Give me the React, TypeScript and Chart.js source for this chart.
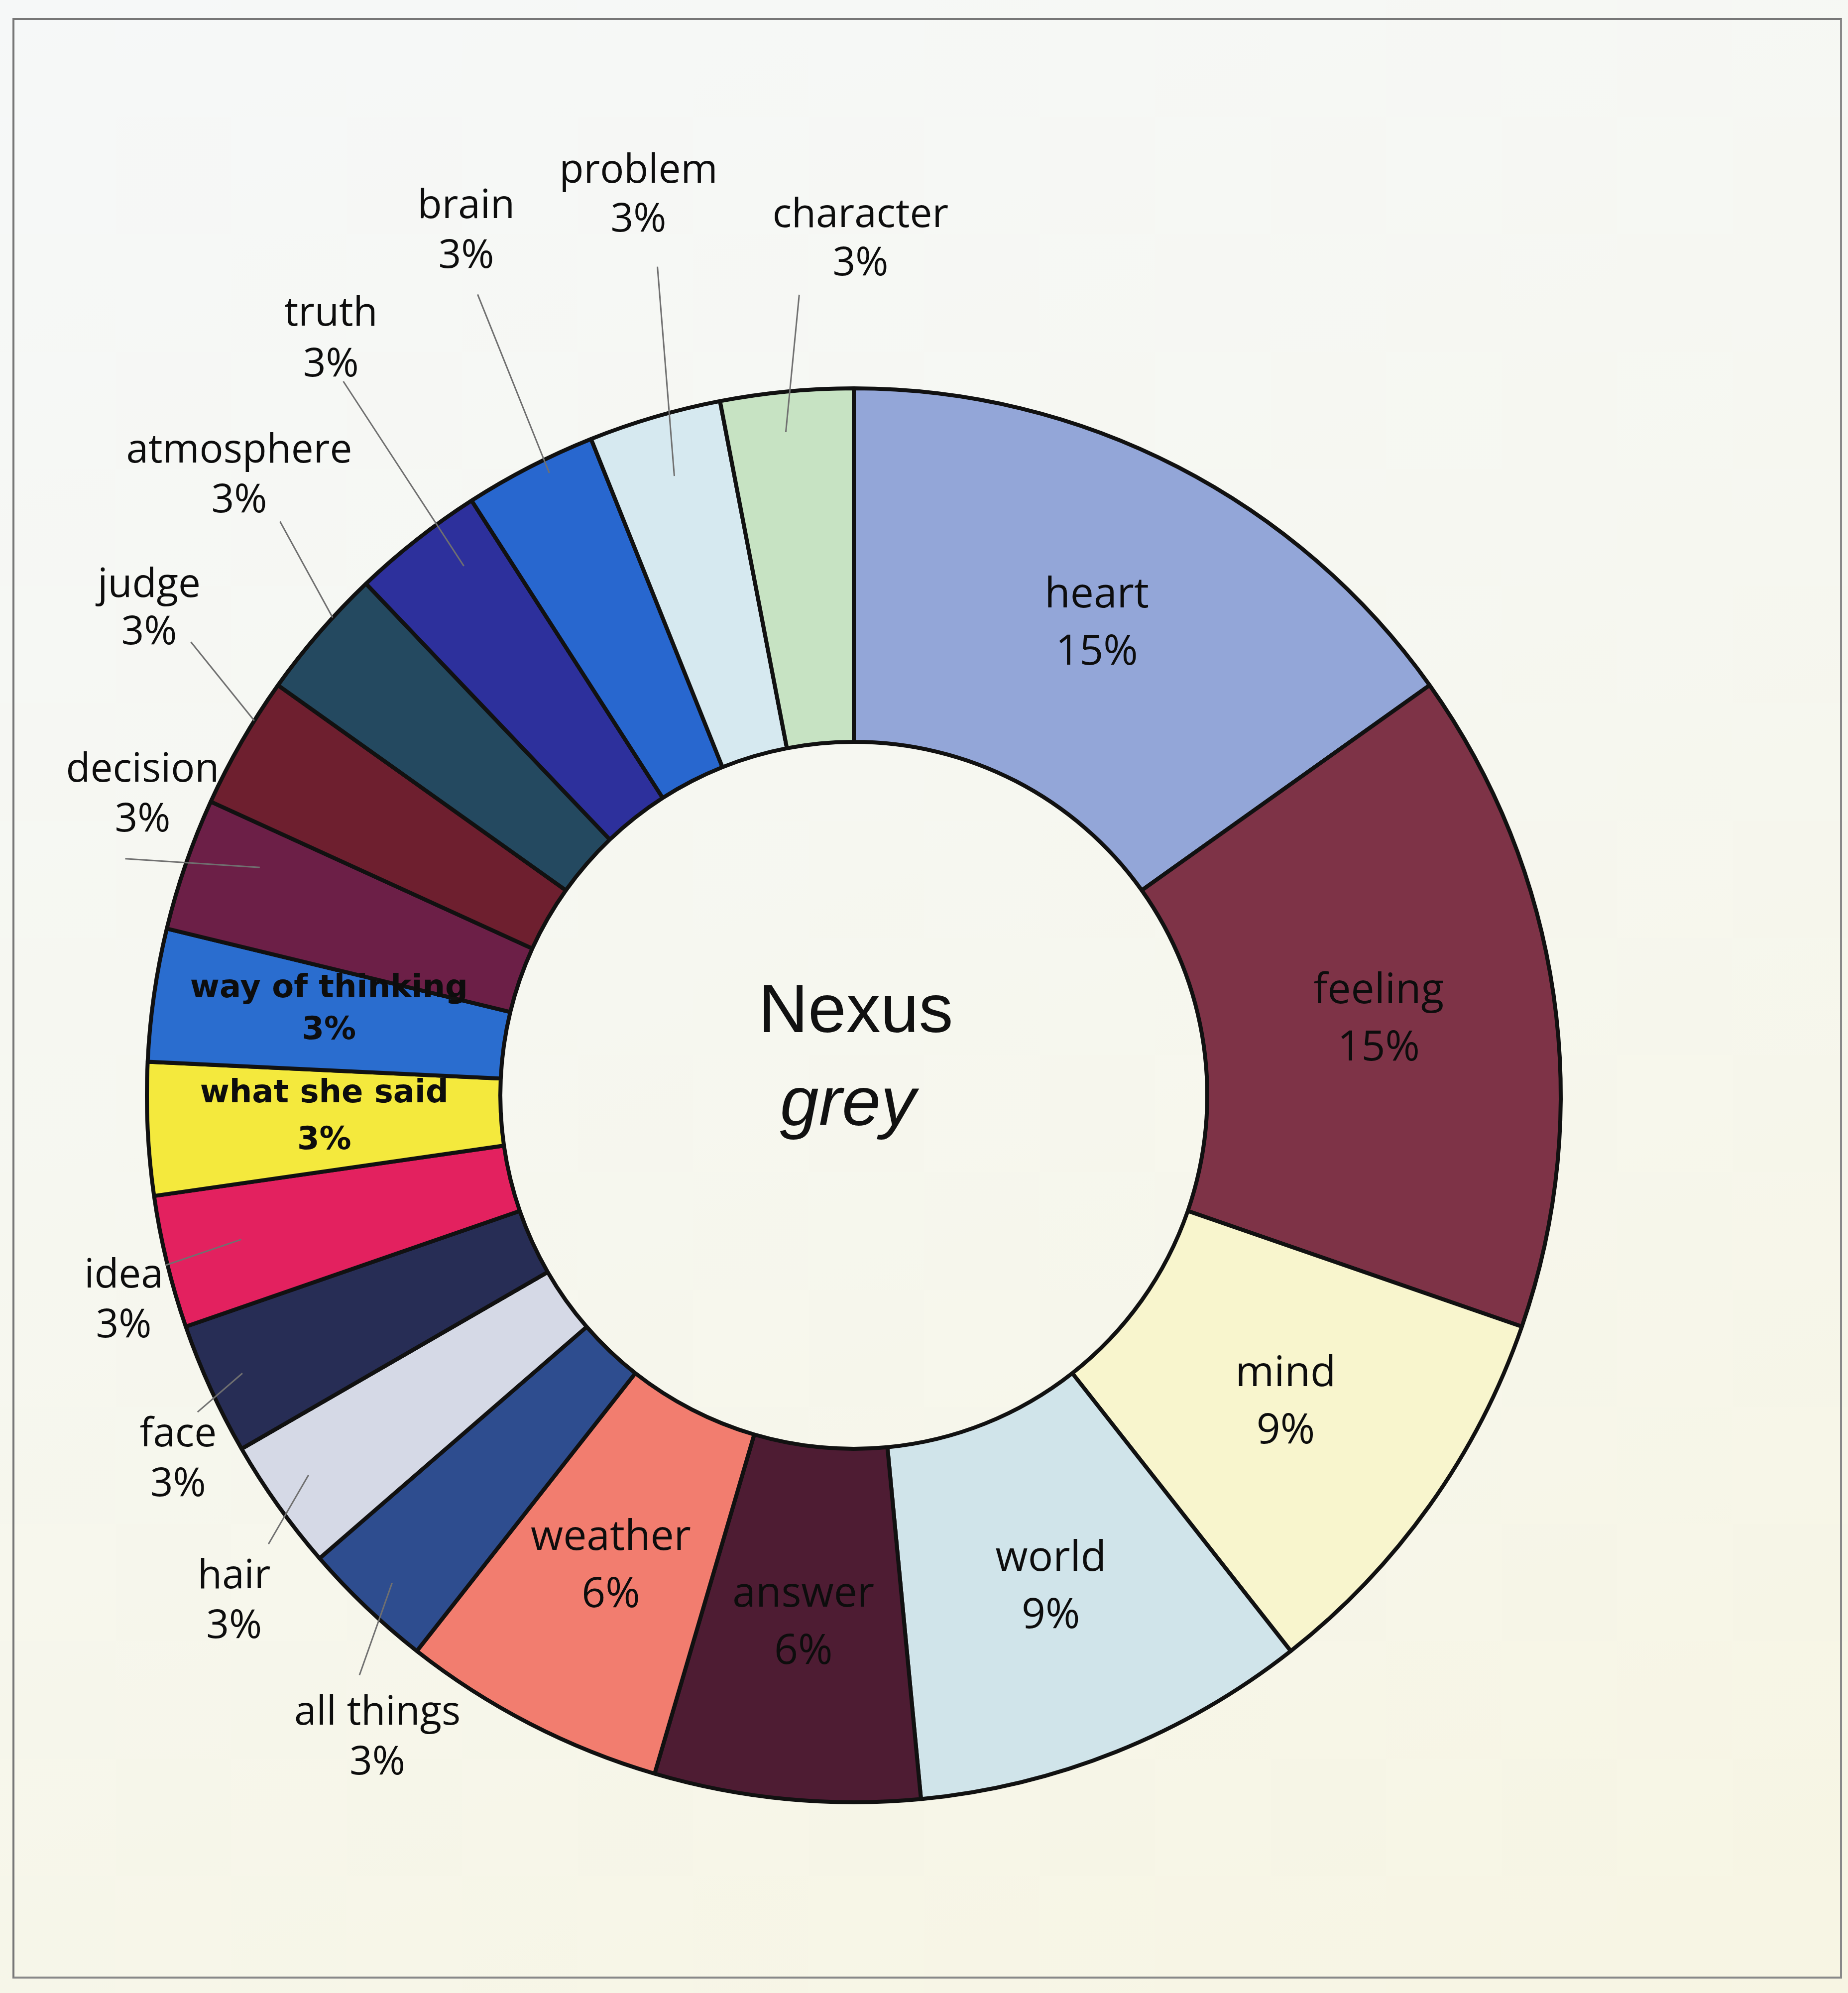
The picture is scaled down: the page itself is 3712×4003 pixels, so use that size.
import React, { useEffect, useRef } from "react";
import { Chart, registerables } from "chart.js";

Chart.register(...registerables);

// ---------- data ----------
const categories: string[] = [
  "heart",
  "feeling",
  "mind",
  "world",
  "answer",
  "weather",
  "all things",
  "hair",
  "face",
  "idea",
  "what she said",
  "way of thinking",
  "decision",
  "judge",
  "atmosphere",
  "truth",
  "brain",
  "problem",
  "character",
];

// counts (33 answers in total -> 15%, 9%, 6%, 3%)
const counts: number[] = [5, 5, 3, 3, 2, 2, 1, 1, 1, 1, 1, 1, 1, 1, 1, 1, 1, 1, 1];

const sliceColors: string[] = [
  "#93a6d8",
  "#7e3347",
  "#f8f5cd",
  "#d0e4ea",
  "#4e1c33",
  "#f27d6f",
  "#2e4d8f",
  "#d5d9e6",
  "#272d55",
  "#e3215f",
  "#f4e93d",
  "#2a6dcf",
  "#6c1f47",
  "#6e1f2f",
  "#244960",
  "#2d309c",
  "#2867cf",
  "#d6e9f0",
  "#c7e3c3",
];

const centerTitle = "Nexus";
const centerSubtitle = "grey";

// ---------- label styling (positions relative to each slice) ----------
type LabelStyle = {
  kind: "inside" | "outside";
  font: string;
  gap: number;
  dy?: number;
  angleOff?: number; // degrees from slice mid-angle
  rFactor?: number; // radius as factor of outer radius
  start?: [number, number]; // leader line start offset from label centre
  endOff?: number; // leader line end angle offset (deg)
  endR?: number; // leader line end radius factor
};

const INSIDE_FONT = "84px 'Open Sans'";
const OUTSIDE_FONT = "80px 'Open Sans'";
const BOLD_FONT = "bold 64px 'DejaVu Sans'";

const labelStyles: Record<string, LabelStyle> = {
  heart: { kind: "inside", font: INSIDE_FONT, gap: 115 },
  feeling: { kind: "inside", font: INSIDE_FONT, gap: 115 },
  mind: { kind: "inside", font: INSIDE_FONT, gap: 115 },
  world: { kind: "inside", font: INSIDE_FONT, gap: 115 },
  answer: { kind: "inside", font: INSIDE_FONT, gap: 115 },
  weather: { kind: "inside", font: INSIDE_FONT, gap: 115 },
  "what she said": { kind: "inside", font: BOLD_FONT, gap: 94, dy: -6 },
  "way of thinking": { kind: "inside", font: BOLD_FONT, gap: 84, dy: -20 },
  "all things": { kind: "outside", font: OUTSIDE_FONT, gap: 100, angleOff: -7.1, rFactor: 1.132, start: [-36, -127], endOff: -0.2, endR: 0.95 },
  hair: { kind: "outside", font: OUTSIDE_FONT, gap: 100, angleOff: -3.8, rFactor: 1.132, start: [69, -116], endOff: 0.6, endR: 0.94 },
  face: { kind: "outside", font: OUTSIDE_FONT, gap: 100, angleOff: -3.8, rFactor: 1.086, start: [39, -96], endOff: 0.1, endR: 0.95 },
  idea: { kind: "outside", font: OUTSIDE_FONT, gap: 100, angleOff: -2.1, rFactor: 1.073, start: [84, -72], endOff: 0.4, endR: 0.89 },
  decision: { kind: "outside", font: OUTSIDE_FONT, gap: 100, angleOff: 3.8, rFactor: 1.092, start: [-35, 128], endOff: 1.9, endR: 0.9 },
  judge: { kind: "outside", font: OUTSIDE_FONT, gap: 95, angleOff: 4.6, rFactor: 1.211, start: [84, 66], endOff: 2.0, endR: 1.0 },
  atmosphere: { kind: "outside", font: OUTSIDE_FONT, gap: 100, angleOff: 4.3, rFactor: 1.234, start: [82, 91], endOff: 1.6, endR: 1.0 },
  truth: { kind: "outside", font: OUTSIDE_FONT, gap: 102, angleOff: 3.5, rFactor: 1.3, start: [25, 84], endOff: 1.8, endR: 0.93 },
  brain: { kind: "outside", font: OUTSIDE_FONT, gap: 100, angleOff: 3.1, rFactor: 1.339, start: [23, 126], endOff: 1.2, endR: 0.98 },
  problem: { kind: "outside", font: OUTSIDE_FONT, gap: 98, angleOff: 2.9, rFactor: 1.308, start: [38, 142], endOff: 0.2, endR: 0.912 },
  character: { kind: "outside", font: OUTSIDE_FONT, gap: 97, angleOff: 5.9, rFactor: 1.21, start: [-123, 110], endOff: -0.4, endR: 0.943 },
};

const TEXT_COLOR = "#0d0d0d";
const LEADER_COLOR = "#707070";

const sliceLabelPlugin = {
  id: "sliceLabels",
  afterDatasetsDraw(chart: any) {
    const ctx: CanvasRenderingContext2D = chart.ctx;
    const meta = chart.getDatasetMeta(0);
    const values = chart.data.datasets[0].data as number[];
    const total = values.reduce((a, b) => a + b, 0);
    const d2r = Math.PI / 180;
    ctx.save();
    meta.data.forEach((el: any, i: number) => {
      const p = el.getProps(["x", "y", "startAngle", "endAngle", "innerRadius", "outerRadius"], true);
      const mid = (p.startAngle + p.endAngle) / 2;
      const name = chart.data.labels[i] as string;
      const pct = Math.round((values[i] / total) * 100) + "%";
      const st = labelStyles[name];
      let cx: number;
      let cy: number;
      if (st.kind === "inside") {
        const r = (p.innerRadius + p.outerRadius) / 2;
        cx = p.x + r * Math.cos(mid);
        cy = p.y + r * Math.sin(mid) + (st.dy || 0);
      } else {
        const a = mid + (st.angleOff || 0) * d2r;
        const r = p.outerRadius * (st.rFactor || 1.2);
        cx = p.x + r * Math.cos(a);
        cy = p.y + r * Math.sin(a);
        const ea = mid + (st.endOff || 0) * d2r;
        const er = p.outerRadius * (st.endR || 1);
        const s = st.start || [0, 0];
        ctx.beginPath();
        ctx.strokeStyle = LEADER_COLOR;
        ctx.lineWidth = 3;
        ctx.moveTo(cx + s[0], cy + s[1]);
        ctx.lineTo(p.x + er * Math.cos(ea), p.y + er * Math.sin(ea));
        ctx.stroke();
      }
      ctx.font = st.font;
      ctx.fillStyle = TEXT_COLOR;
      ctx.textAlign = "center";
      ctx.textBaseline = "middle";
      ctx.fillText(name, cx, cy - st.gap / 2);
      ctx.fillText(pct, cx, cy + st.gap / 2);
    });

    // centre text
    const first = meta.data[0];
    if (first) {
      const c = first.getProps(["x", "y"], true);
      ctx.fillStyle = "#111111";
      ctx.textAlign = "center";
      ctx.textBaseline = "alphabetic";
      ctx.font = "138px 'Liberation Sans'";
      ctx.fillText(centerTitle, c.x + 4, c.y - 127);
      ctx.font = "italic 140px 'Liberation Sans'";
      ctx.fillText(centerSubtitle, c.x - 12, c.y + 60);
    }
    ctx.restore();
  },
};

const W = 3712;
const H = 4003;

export default function App() {
  const canvasRef = useRef<HTMLCanvasElement | null>(null);

  useEffect(() => {
    const canvas = canvasRef.current;
    if (!canvas) return;
    const cxTarget = 1715;
    const cyTarget = 2200;
    const half = 1430;
    const chart = new Chart(canvas, {
      type: "doughnut",
      data: {
        labels: categories,
        datasets: [
          {
            data: counts,
            backgroundColor: sliceColors,
            borderColor: "#111111",
            borderWidth: 8,
            radius: 1420,
            cutout: "50%",
          } as any,
        ],
      },
      options: {
        responsive: false,
        animation: false,
        devicePixelRatio: 1,
        events: [],
        rotation: 0,
        layout: {
          padding: {
            left: cxTarget - half,
            right: W - (cxTarget + half),
            top: cyTarget - half,
            bottom: H - (cyTarget + half),
          },
        },
        plugins: {
          legend: { display: false },
          tooltip: { enabled: false },
          title: { display: false },
        },
      } as any,
      plugins: [sliceLabelPlugin],
    });
    return () => chart.destroy();
  }, []);

  return (
    <div
      style={{
        position: "absolute",
        left: 0,
        top: 0,
        width: W,
        height: H,
        overflow: "hidden",
        background: "linear-gradient(160deg, #f6f8f8 0%, #f6f7f0 45%, #f7f5e3 100%)",
      }}
    >
      <div
        style={{
          position: "absolute",
          left: 25,
          top: 36,
          width: 3675,
          height: 3938,
          borderLeft: "4px solid #777",
          borderTop: "4px solid #777",
          borderBottom: "4px solid #888",
          borderRight: "4px solid #888",
          boxSizing: "border-box",
        }}
      />
      <canvas
        ref={canvasRef}
        width={W}
        height={H}
        style={{ position: "absolute", left: 0, top: 0, width: W, height: H }}
      />
    </div>
  );
}
